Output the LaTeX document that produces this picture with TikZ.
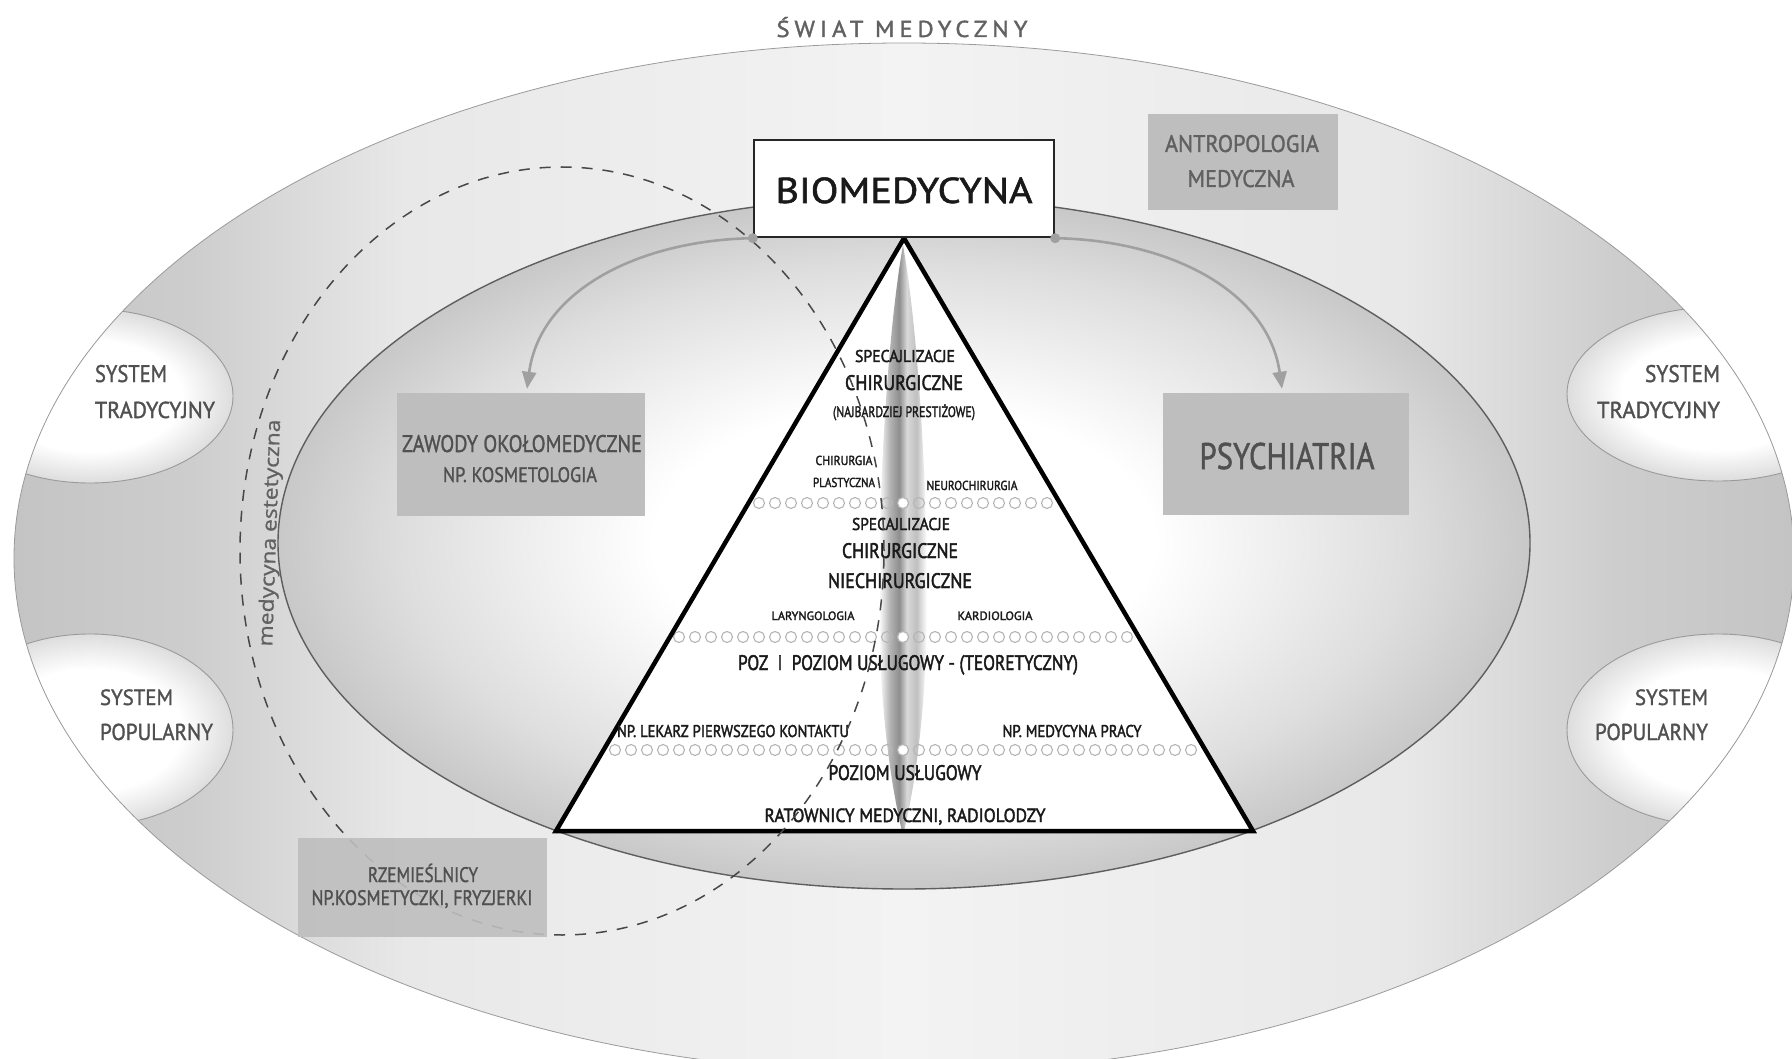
\documentclass[tikz,border=0pt]{standalone}
\usepackage{fontspec}
\setmainfont{PT Sans}
\newfontfamily\labf[FakeBold=1.4]{PT Sans}
\newfontfamily\trif[FakeBold=2.2]{PT Sans}
\newfontfamily\biof[FakeBold=1.4]{PT Sans}
\newfontfamily\osans[FakeBold=0.8]{Open Sans}
\usepackage{graphicx}
\usetikzlibrary{arrows.meta}
\definecolor{lblgray}{HTML}{505050}
\definecolor{tritext}{HTML}{1A1A1A}
\definecolor{boxgray}{HTML}{BEBEBE}
\definecolor{arrgray}{HTML}{A0A0A0}
\definecolor{ringline}{HTML}{9A9A9A}
\definecolor{innerline}{HTML}{5E5E5E}
\definecolor{oA}{HTML}{C4C4C4}
\definecolor{oB}{HTML}{CDCDCD}
\definecolor{oC}{HTML}{E8E8E8}
\definecolor{oD}{HTML}{F3F3F3}
\definecolor{iB}{HTML}{DEDEDE}
\definecolor{iC}{HTML}{C8C8C8}
\definecolor{lB}{HTML}{DDDDDD}
\definecolor{sA}{HTML}{B5B5B5}
\definecolor{sB}{HTML}{8E8E8E}
\definecolor{sC}{HTML}{D9D9D9}
\definecolor{sD}{HTML}{C0C0C0}
\pgfdeclarehorizontalshading{outersh}{100bp}{color(0bp)=(oA); color(25bp)=(oA); color(30bp)=(oB); color(36bp)=(oC); color(50bp)=(oD); color(64bp)=(oC); color(70bp)=(oB); color(75bp)=(oA); color(100bp)=(oA)}
\pgfdeclareradialshading{innersh}{\pgfpoint{0bp}{0bp}}{color(0bp)=(white); color(10bp)=(white); color(20bp)=(iB); color(25bp)=(iC); color(50bp)=(iC)}
\pgfdeclareradialshading{lobesh}{\pgfpoint{0bp}{0bp}}{color(0bp)=(white); color(16bp)=(white); color(25bp)=(lB); color(50bp)=(lB)}
\pgfdeclarehorizontalshading{stripesh}{100bp}{color(0bp)=(white); color(25bp)=(white); color(36bp)=(sA); color(46bp)=(sB); color(54bp)=(sC); color(64bp)=(sD); color(75bp)=(white); color(100bp)=(white)}
\newcommand\fw[3]{\resizebox{#1pt}{\height}{\fontsize{#2pt}{#2pt}\selectfont #3}}
\begin{document}
\begin{tikzpicture}[x=1pt,y=-1pt,
  lbl/.style={inner sep=0pt, outer sep=0pt, anchor=base, text=lblgray, font=\labf},
  lbll/.style={lbl, anchor=base west},
  lblr/.style={lbl, anchor=base east},
  tri/.style={lbl, text=tritext, font=\trif},
  gbox/.style={fill=boxgray, draw=none, inner sep=0pt},
  dotc/.style={draw=sA, line width=1.1pt},
  arr/.style={draw=arrgray, line width=2.6pt, -{Triangle[length=17pt,width=14pt]}},
  dashline/.style={draw=black!72, line width=1.5pt, dash pattern=on 11pt off 10pt},
  lobeline/.style={draw=ringline, line width=0.9pt}]
\useasboundingbox (0,0) rectangle (1792,1059);
\fill[white] (0,0) rectangle (1792,1059);
% outer world ellipse
\shade[shading=outersh] (904,558) ellipse [x radius=890pt, y radius=515pt];
\begin{scope}
\clip (904,558) ellipse [x radius=890pt, y radius=515pt];
\shade[shading=lobesh] (90,396) ellipse [x radius=143pt, y radius=87pt];
\draw[lobeline] (90,396) ellipse [x radius=143pt, y radius=87pt];
\shade[shading=lobesh] (90,730) ellipse [x radius=143pt, y radius=96pt];
\draw[lobeline] (90,730) ellipse [x radius=143pt, y radius=96pt];
\shade[shading=lobesh] (1718,394) ellipse [x radius=151pt, y radius=87pt];
\draw[lobeline] (1718,394) ellipse [x radius=151pt, y radius=87pt];
\shade[shading=lobesh] (1718,730) ellipse [x radius=151pt, y radius=96pt];
\draw[lobeline] (1718,730) ellipse [x radius=151pt, y radius=96pt];
\end{scope}
\draw[ringline, line width=0.8pt] (904,558) ellipse [x radius=890pt, y radius=515pt];
% inner ellipse
\shade[shading=innersh] (904,543) ellipse [x radius=626pt, y radius=346pt];
\draw[innerline, line width=1.4pt] (904,543) ellipse [x radius=626pt, y radius=346pt];
% box position
\node[draw=black!85, line width=2.4pt, fill=white, minimum width=300pt, minimum height=97pt, inner sep=0pt] (bio) at (904,188.5) {};
\coordinate (tl) at (556,831);
\coordinate (tr) at (1253,831);
% triangle
\fill[white] (bio.south) -- (tl) -- (tr) -- cycle;
\shade[shading=stripesh] (903,245) .. controls (918,330) and (927,480) .. (927,600) .. controls (927,710) and (914,790) .. (904,831) -- (902,831) .. controls (892,790) and (879,710) .. (879,600) .. controls (879,480) and (888,330) .. (903,245) -- cycle;
\foreach \k in {-9,...,9} \draw[dotc] ({903+16*\k},503) circle [radius=5.5pt];
\foreach \k in {-14,...,14} \draw[dotc] ({903+16*\k},637) circle [radius=5.5pt];
\foreach \k in {-18,...,18} \draw[dotc] ({903+16*\k},750) circle [radius=5.5pt];
\foreach \yy in {503,637,750} \draw[dotc, fill=white] (903,\yy) circle [radius=5.5pt];
\draw[black, line width=4.5pt, line join=miter] (bio.south) -- (tl) -- (tr) -- cycle;
% triangle texts
\node[tri] (s1) at (905,362) {\fw{100}{17}{SPECAJLIZACJE}};
\node[tri] (s2) at (904,390) {\fw{118}{21}{CHIRURGICZNE}};
\node[tri] (s3) at (904,417) {\fw{142}{15}{(NAJBARDZIEJ PRESTIŻOWE)}};
\node[tri] (s4) at (844,465) {\fw{57}{13}{CHIRURGIA}};
\node[tri] (s5) at (844,487) {\fw{62}{13}{PLASTYCZNA}};
\node[tri] (s6) at (972,490) {\fw{91}{13}{NEUROCHIRURGIA}};
\node[tri] (s7) at (901,530) {\fw{98}{17}{SPECAJLIZACJE}};
\node[tri] (s8) at (900,558) {\fw{116}{21}{CHIRURGICZNE}};
\node[tri] (s9) at (900,588) {\fw{144}{21}{NIECHIRURGICZNE}};
\node[tri] (s10) at (813,620) {\fw{83}{12}{LARYNGOLOGIA}};
\node[tri] (s11) at (995,620) {\fw{75}{12}{KARDIOLOGIA}};
\node[tri] (s12) at (908,670) {\fw{340}{21}{POZ\ \ I\ \ POZIOM USŁUGOWY - (TEORETYCZNY)}};
\node[tri] (s13) at (733,737) {\fw{232}{17}{NP. LEKARZ PIERWSZEGO KONTAKTU}};
\node[tri] (s14) at (1072,737) {\fw{139}{17}{NP. MEDYCYNA PRACY}};
\node[tri] (s15) at (905,780) {\fw{153}{21}{POZIOM USŁUGOWY}};
\node[tri] (s16) at (905,822) {\fw{281}{19}{RATOWNICY MEDYCZNI, RADIOLODZY}};
% dashed "medycyna estetyczna"
\draw[dashline] (562,551) ellipse [x radius=322pt, y radius=384pt];
% grey boxes
\node[gbox, minimum width=190pt, minimum height=96pt] (antr) at (1243,162) {};
\node[gbox, minimum width=248pt, minimum height=123pt] (zaw) at (521,454.5) {};
\node[gbox, minimum width=246pt, minimum height=122pt] (psy) at (1286,454) {};
\node[gbox, fill opacity=0.9, minimum width=249pt, minimum height=99pt] (rzem) at (422.5,887.5) {};
\node[draw=black!85, line width=2.4pt, fill=white, minimum width=300pt, minimum height=97pt, inner sep=0pt] (bio2) at (bio) {};
% arrows
\draw[arr] (bio.south west) .. controls (640,240) and (540,290) .. ([xshift=6pt,yshift=4pt]zaw.north);
\draw[arr] (bio.south east) .. controls (1168,240) and (1268,290) .. ([xshift=-4pt,yshift=4pt]psy.north);
\fill[arrgray] (bio.south west) circle [radius=5pt];
\fill[arrgray] (bio.south east) circle [radius=5pt];
% labels
\node[lbl, text=black!62] (tswiat) at (902,37) {\fw{251}{23}{\addfontfeatures{LetterSpace=20}ŚWIAT MEDYCZNY}};
\node[lbl, text=black!90, font=\biof] (tbio) at (904,203) {\fw{257}{36}{BIOMEDYCYNA}};
\node[lbl, text=black!62] (ta1) at (1242,152) {\fw{154}{24}{ANTROPOLOGIA}};
\node[lbl, text=black!62] (ta2) at (1241,187) {\fw{107}{24}{MEDYCZNA}};
\node[lbl] (tz1) at (522,452) {\fw{240}{24}{ZAWODY OKOŁOMEDYCZNE}};
\node[lbl] (tz2) at (520,482) {\fw{154}{21}{NP. KOSMETOLOGIA}};
\node[lbl] (tp) at (1287,469) {\fw{175}{37}{PSYCHIATRIA}};
\node[lbl] (tr1) at (423,882) {\fw{110}{21}{RZEMIEŚLNICY}};
\node[lbl] (tr2) at (422,905) {\fw{221}{21}{NP.KOSMETYCZKI, FRYZJERKI}};
\node[lbll] (l1a) at (95,382) {\fw{72}{24}{SYSTEM}};
\node[lbll] (l1b) at (95,418) {\fw{120}{23}{TRADYCYJNY}};
\node[lbll] (l2a) at (100,705) {\fw{73}{22}{SYSTEM}};
\node[lbll] (l2b) at (100,740) {\fw{113}{23}{POPULARNY}};
\node[lblr] (r1a) at (1720,382) {\fw{75}{24}{SYSTEM}};
\node[lblr] (r1b) at (1720,418) {\fw{123}{23}{TRADYCYJNY}};
\node[lblr] (r2a) at (1708,705) {\fw{73}{22}{SYSTEM}};
\node[lblr] (r2b) at (1708,740) {\fw{113}{23}{POPULARNY}};
\node[inner sep=0pt, text=black!62, rotate=88, font=\osans] (tmed) at (271,533) {\fw{227}{20}{medycyna estetyczna}};
\end{tikzpicture}
\end{document}
